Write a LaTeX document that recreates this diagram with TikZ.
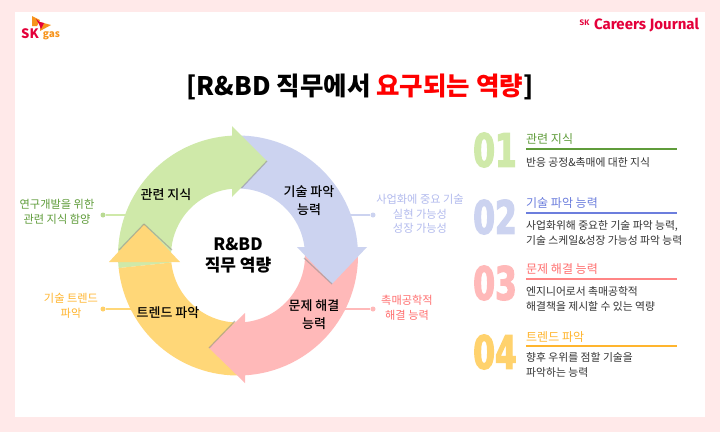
\documentclass[tikz,border=0pt]{standalone}
\usepackage{fontspec}
\setmainfont{Noto Sans CJK KR}
\newfontfamily\medfont{Noto Sans CJK KR Medium}
\newfontfamily\numfont[FakeStretch=0.68,FakeBold=2.6]{DejaVu Sans}
\newfontfamily\latinfont{Fira Sans}
\definecolor{pagepink}{HTML}{FFE9E9}
\definecolor{arrowgreen}{HTML}{CFE9A9}
\definecolor{arrowblue}{HTML}{CCD3F0}
\definecolor{arrowpink}{HTML}{FFB9B9}
\definecolor{arrowyellow}{HTML}{FFD778}
\definecolor{textgreen}{HTML}{5F9C3A}
\definecolor{textblue}{HTML}{6C7EDD}
\definecolor{textpink}{HTML}{FF6F6F}
\definecolor{textyellow}{HTML}{FFB52E}
\definecolor{paleblue}{HTML}{B3BBEE}
\definecolor{skred}{HTML}{E4003A}
\definecolor{skorange}{HTML}{F7941D}
\definecolor{bodygray}{HTML}{333333}
\tikzset{
  ringlabel/.style={font=\fontsize{13}{18}\selectfont\medfont, align=center, text=black},
  sidelabel/.style={font=\fontsize{11.2}{14.5}\selectfont, align=center},
  numlabel/.style={font=\fontsize{46}{46}\selectfont\numfont\bfseries},
  headlabel/.style={font=\fontsize{12}{14}\selectfont, anchor=west, inner sep=0pt},
  bodylabel/.style={font=\fontsize{10.8}{15}\selectfont, anchor=west, align=left, inner sep=0pt, text=bodygray},
  dotmark/.style={circle, fill, inner sep=0pt, minimum size=5pt},
  edgeshade/.style={line width=1.2pt, black!45, opacity=.55},
}
\begin{document}
\begin{tikzpicture}[x=1pt,y=-1pt]
\fill[pagepink] (0,0) rectangle (720,432);
\fill[white] (15,12) rectangle (705,417);
% logo
\fill[skorange] (32,16) -- (40,20) -- (37,26) -- (32,26) -- cycle;
\fill[skorange] (40,22) -- (51,25) -- (40,31) -- cycle;
\fill[skred] (36,19) -- (40,22) -- (44,23) -- (41,29) -- (39,24) -- cycle;
\node[font=\fontsize{13}{13}\selectfont\bfseries, text=skred, inner sep=0pt] (skname) at (30,34) {SK};
\node[font=\fontsize{10}{10}\selectfont\bfseries, text=skorange, inner sep=0pt] (gasname) at (51.5,36) {gas};
\node[font=\fontsize{8}{8}\selectfont\latinfont\bfseries, text=skred, inner sep=0pt] (sksmall) at (584.5,23) {SK};
\node[font=\fontsize{15}{15}\selectfont\latinfont\bfseries, text=skred, inner sep=0pt, anchor=west] (journal) at (594,25) {Careers Journal};
% title
\node[font=\fontsize{25.5}{25.5}\selectfont\bfseries, inner sep=0pt] (title) at (360,87) {[R\&BD 직무에서 \textcolor{red}{요구되는 역량}]};
% connectors behind the ring
\node[dotmark, arrowgreen!80!textgreen] (dotgreen) at (103,215) {};
\node[dotmark, arrowblue] (dotblue) at (373,215) {};
\node[dotmark, arrowpink] (dotpink) at (373,309) {};
\node[dotmark, arrowyellow!80!textyellow] (dotyellow) at (103,309) {};
\coordinate (endgreen) at (130,215);
\coordinate (endblue) at (345,215);
\coordinate (endpink) at (340,309);
\coordinate (endyellow) at (135,309);
\draw[arrowgreen, line width=1.2pt] (dotgreen) -- (endgreen);
\draw[arrowblue, line width=1.2pt] (dotblue) -- (endblue);
\draw[arrowpink, line width=1.2pt] (dotpink) -- (endpink);
\draw[arrowyellow, line width=1.2pt] (dotyellow) -- (endyellow);
% ring bands
\begin{scope}[shift={(238,255.5)}]
\fill[arrowgreen] (186:120pt) arc[start angle=186, end angle=92.7, radius=120pt] -- (92.7:67pt) arc[start angle=92.7, end angle=186, radius=67pt] -- cycle;
\fill[arrowblue] (91:120pt) arc[start angle=91, end angle=3.8, radius=120pt] -- (3.8:67pt) arc[start angle=3.8, end angle=91, radius=67pt] -- cycle;
\fill[arrowpink] (3:120pt) arc[start angle=3, end angle=-86.7, radius=120pt] -- (-86.7:67pt) arc[start angle=-86.7, end angle=3, radius=67pt] -- cycle;
\fill[arrowyellow] (-88:120pt) arc[start angle=-88, end angle=-174, radius=120pt] -- (-174:67pt) arc[start angle=-174, end angle=-88, radius=67pt] -- cycle;
\end{scope}
% ring heads
\fill[arrowgreen] (232,126) -- (267,161) -- (232,197) -- cycle;
\fill[arrowblue] (297,247) -- (367,247) -- (332,284) -- cycle;
\fill[arrowpink] (245,313) -- (209,348) -- (245,383) -- cycle;
\fill[arrowyellow] (109,262) -- (144,224) -- (180,262) -- cycle;
\draw[edgeshade] (267,161) -- (241.5,188);
\draw[edgeshade] (332,284) -- (304,258);
\draw[edgeshade] (209,348) -- (235,321);
\draw[edgeshade] (144,224) -- (119,250);
\draw[edgeshade] (144,224) -- (172,250);
% ring labels
\node[ringlabel] (labelgreen) at (166,195) {관련 지식};
\node[ringlabel] (labelblue) at (309,201) {기술 파악\\능력};
\node[ringlabel] (labelpink) at (314,315) {문제 해결\\능력};
\node[ringlabel] (labelyellow) at (168,313) {트렌드 파악};
\node[font=\fontsize{17}{21}\selectfont\bfseries, align=center] (center) at (238,255) {R\&BD\\직무 역량};
% side labels
\node[sidelabel, text=textgreen] (sidegreen) at (57,212) {연구개발을 위한\\관련 지식 함양};
\node[sidelabel, text=textyellow] (sideyellow) at (71,306) {기술 트렌드\\파악};
\node[sidelabel, text=paleblue] (sideblue) at (420,214) {사업화에 중요 기술\\실현 가능성\\성장 가능성};
\node[sidelabel, text=textpink] (sidepink) at (407,308) {촉매공학적\\해결 능력};
% list on the right
\node[numlabel, text=arrowgreen] (numone) at (495,150) {01};
\node[numlabel, text=arrowblue] (numtwo) at (495,217) {02};
\node[numlabel, text=arrowpink] (numthree) at (495,283) {03};
\node[numlabel, text=arrowyellow!85!textyellow] (numfour) at (495,352) {04};
\node[headlabel, text=textgreen] (headone) at (526,139) {관련 지식};
\node[headlabel, text=textblue] (headtwo) at (526,203) {기술 파악 능력};
\node[headlabel, text=textpink] (headthree) at (526,269) {문제 해결 능력};
\node[headlabel, text=textyellow] (headfour) at (526,337) {트렌드 파악};
\draw[textgreen, line width=1.6pt] (526,149) -- (677,149);
\draw[textblue, line width=1.6pt] (526,213) -- (677,213);
\draw[textpink!85, line width=1.6pt] (526,279) -- (677,279);
\draw[textyellow, line width=1.6pt] (526,346) -- (677,346);
\node[bodylabel] (bodyone) at (526,162) {반응 공정\&촉매에 대한 지식};
\node[bodylabel] (bodytwo) at (526,232.5) {사업화위해 중요한 기술 파악 능력,\\기술 스케일\&성장 가능성 파악 능력};
\node[bodylabel] (bodythree) at (526,298.5) {엔지니어로서 촉매공학적\\해결책을 제시할 수 있는 역량};
\node[bodylabel] (bodyfour) at (526,364.5) {향후 우위를 점할 기술을\\파악하는 능력};
\end{tikzpicture}
\end{document}
